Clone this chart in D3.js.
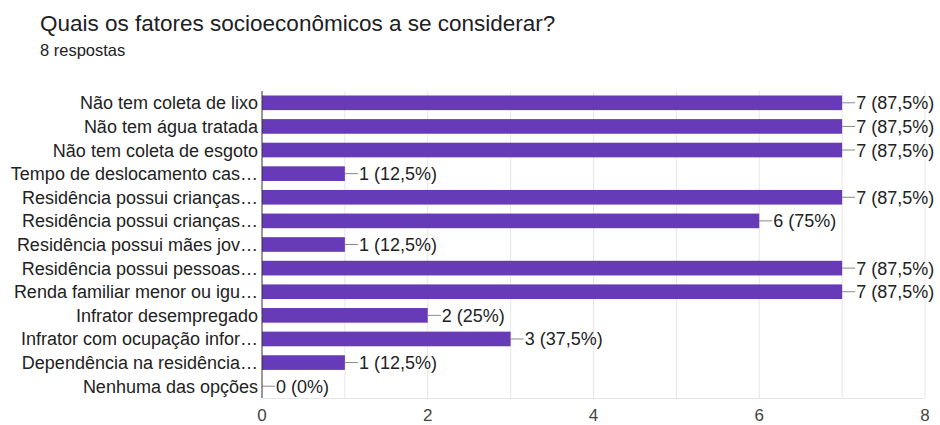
<!DOCTYPE html>
<html>
<head>
<meta charset="utf-8">
<script src="https://cdn.jsdelivr.net/npm/d3@7"></script>
<style>
  html, body { margin: 0; padding: 0; background: #fff; }
  svg { display: block; }
  text { font-family: "Liberation Sans", Arial, sans-serif; }
</style>
</head>
<body>
<svg id="chart" width="940" height="425"></svg>
<script>
const title = "Quais os fatores socioeconômicos a se considerar?";
const subtitle = "8 respostas";
const categories = [
  "Não tem coleta de lixo",
  "Não tem água tratada",
  "Não tem coleta de esgoto",
  "Tempo de deslocamento cas…",
  "Residência possui crianças…",
  "Residência possui crianças…",
  "Residência possui mães jov…",
  "Residência possui pessoas…",
  "Renda familiar menor ou igu…",
  "Infrator desempregado",
  "Infrator com ocupação infor…",
  "Dependência na residência…",
  "Nenhuma das opções"
];
const counts = [7, 7, 7, 1, 7, 6, 1, 7, 7, 2, 3, 1, 0];
const valueLabels = ["7 (87,5%)", "7 (87,5%)", "7 (87,5%)", "1 (12,5%)", "7 (87,5%)", "6 (75%)",
  "1 (12,5%)", "7 (87,5%)", "7 (87,5%)", "2 (25%)", "3 (37,5%)", "1 (12,5%)", "0 (0%)"];
const xTicks = [0, 2, 4, 6, 8];
const gridValues = [1, 2, 3, 4, 5, 6, 7, 8];

const svg = d3.select("#chart");
const plotLeft = 262, plotRight = 925, plotTop = 91, plotBottom = 398;

const x = d3.scaleLinear().domain([0, 8]).range([plotLeft, plotRight]);
const y = d3.scaleBand().domain(d3.range(categories.length))
  .range([plotTop, plotBottom]).paddingInner(0.38).paddingOuter(0.19);

svg.append("text").attr("x", 40).attr("y", 31)
  .attr("font-size", 22.5).attr("fill", "#202124").text(title);
svg.append("text").attr("x", 40).attr("y", 56)
  .attr("font-size", 16.5).attr("fill", "#202124").text(subtitle);

// vertical gridlines
svg.append("g").selectAll("line").data(gridValues).join("line")
  .attr("x1", d => x(d)).attr("x2", d => x(d))
  .attr("y1", plotTop).attr("y2", plotBottom)
  .attr("stroke", "#e6e6e6").attr("stroke-width", 1);
svg.append("line").attr("x1", plotLeft).attr("x2", plotRight)
  .attr("y1", plotBottom + 0.5).attr("y2", plotBottom + 0.5)
  .attr("stroke", "#e6e6e6");

// x axis tick labels
svg.append("g").selectAll("text").data(xTicks).join("text")
  .attr("x", d => x(d)).attr("y", 420.5)
  .attr("text-anchor", "middle").attr("font-size", 17).attr("fill", "#444")
  .text(d => d);

// bars
svg.append("g").selectAll("rect").data(counts).join("rect")
  .attr("x", plotLeft)
  .attr("y", (d, i) => y(i))
  .attr("width", d => x(d) - plotLeft)
  .attr("height", y.bandwidth())
  .attr("fill", "#673ab7");

// leader lines to value labels
svg.append("g").selectAll("line").data(counts).join("line")
  .attr("x1", d => x(d)).attr("x2", d => x(d) + 13)
  .attr("y1", (d, i) => y(i) + y.bandwidth() / 2)
  .attr("y2", (d, i) => y(i) + y.bandwidth() / 2)
  .attr("stroke", "#888").attr("stroke-width", 1);

svg.append("g").selectAll("text").data(counts).join("text")
  .attr("x", d => x(d) + 14)
  .attr("y", (d, i) => y(i) + y.bandwidth() / 2)
  .attr("dy", "0.36em")
  .attr("font-size", 18).attr("fill", "#222")
  .text((d, i) => valueLabels[i]);

// category labels
svg.append("g").selectAll("text").data(categories).join("text")
  .attr("x", plotLeft - 4)
  .attr("y", (d, i) => y(i) + y.bandwidth() / 2)
  .attr("dy", "0.36em")
  .attr("text-anchor", "end")
  .attr("font-size", 18).attr("fill", "#222")
  .text(d => d);

// baseline axis
svg.append("line").attr("x1", plotLeft).attr("x2", plotLeft)
  .attr("y1", plotTop).attr("y2", plotBottom)
  .attr("stroke", "#333").attr("stroke-width", 1);
</script>
</body>
</html>
